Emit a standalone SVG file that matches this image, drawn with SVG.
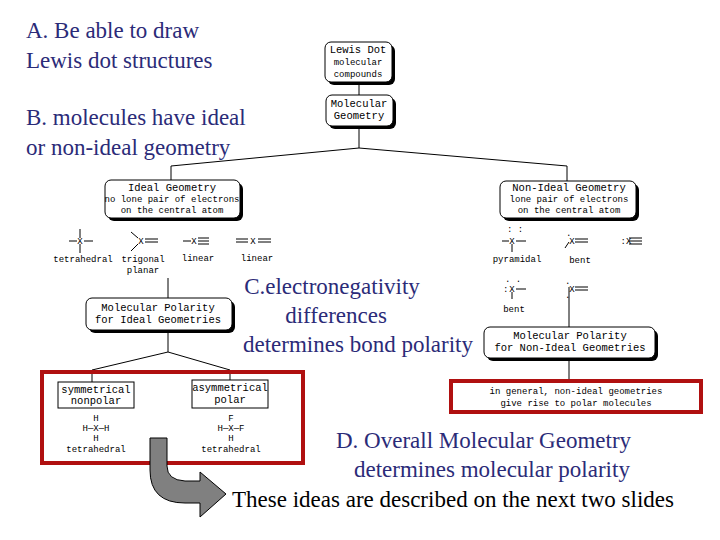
<svg xmlns="http://www.w3.org/2000/svg" width="720" height="540" viewBox="0 0 720 540">
<style>
.t{font-size:23px;fill:#2b2b78}
.m{font-size:10.5px;fill:#000}
.s{font-size:9px;fill:#000}
.b{fill:#fff;stroke:#000;stroke-width:1}
.sh{fill:#000}
.l{stroke:#000;stroke-width:1;fill:none}
.r{fill:none;stroke:#b01010;stroke-width:4}
</style>
<rect width="720" height="540" fill="#fff"/>
<g font-family="'Liberation Serif', 'Times New Roman', serif">
<text class="t" x="26" y="38">A. Be able to draw</text>
<text class="t" x="26" y="68">Lewis dot structures</text>
<text class="t" x="26" y="125">B. molecules have ideal</text>
<text class="t" x="26" y="155">or non-ideal geometry</text>
<text class="t" x="332" y="294" text-anchor="middle">C.electronegativity</text>
<text class="t" x="336" y="323" text-anchor="middle">differences</text>
<text class="t" x="358" y="352" text-anchor="middle">determines bond polarity</text>
<text class="t" x="336" y="448">D. Overall Molecular Geometry</text>
<text class="t" x="354" y="477">determines molecular polarity</text>
<text class="t" x="232" y="507" style="fill:#000">These ideas are described on the next two slides</text>
</g>
<g id="connectors" class="l">
<path d="M359 82V96M359 126V148L171 166V180M359 148L567 166V181"/>
<path d="M168 278V298M168 330V352L92 370V382M168 352L230 370V380"/>
<path d="M569 287V327M569 358V380"/>
</g>
<g font-family="'Liberation Mono', 'Courier New', monospace">
<g id="lewis"><rect class="sh" x="328" y="45" width="67" height="40" rx="6"/><rect class="b" x="325" y="42" width="67" height="40" rx="6"/>
<text class="m" x="358" y="53" text-anchor="middle">Lewis Dot</text><text class="s" x="358" y="65" text-anchor="middle">molecular</text><text class="s" x="358" y="77" text-anchor="middle">compounds</text></g>
<g id="molgeo"><rect class="sh" x="329" y="98" width="67" height="31" rx="6"/><rect class="b" x="326" y="95" width="67" height="31" rx="6"/>
<text class="m" x="359" y="107" text-anchor="middle">Molecular</text><text class="m" x="359" y="119" text-anchor="middle">Geometry</text></g>
<g id="ideal"><rect class="sh" x="108" y="183" width="135" height="38" rx="6"/><rect class="b" x="105" y="180" width="135" height="38" rx="6"/>
<text class="m" x="172" y="191" text-anchor="middle">Ideal Geometry</text><text class="s" x="172" y="202" text-anchor="middle">no lone pair of electrons</text><text class="s" x="172" y="213" text-anchor="middle">on the central atom</text></g>
<g id="nonideal"><rect class="sh" x="503" y="184" width="136" height="37" rx="6"/><rect class="b" x="500" y="181" width="136" height="37" rx="6"/>
<text class="m" x="569" y="191" text-anchor="middle">Non-Ideal Geometry</text><text class="s" x="569" y="202" text-anchor="middle">lone pair of electrons</text><text class="s" x="569" y="213" text-anchor="middle">on the central atom</text></g>
<g id="ideal-shapes" class="l">
<path d="M69 241H77M84 241H93M80 229V238M80 244V253"/>
<path d="M131 232L138 238M131 251L138 244M145 239H158M145 242H158"/>
<path d="M183 241H191M198 238H209M198 241H209M198 244H209"/>
<path d="M236 239H248M236 242H248M258 239H271M258 242H271"/>
</g>
<text class="s" x="80" y="244" text-anchor="middle">X</text>
<text class="s" x="141" y="244" text-anchor="middle">X</text>
<text class="s" x="194" y="244" text-anchor="middle">X</text>
<text class="s" x="253" y="244" text-anchor="middle">X</text>
<text class="s" x="83" y="262" text-anchor="middle">tetrahedral</text>
<text class="s" x="143" y="262" text-anchor="middle">trigonal</text>
<text class="s" x="143" y="273" text-anchor="middle">planar</text>
<text class="s" x="198" y="261" text-anchor="middle">linear</text>
<text class="s" x="257" y="261" text-anchor="middle">linear</text>
<g id="nonideal-shapes" class="l">
<path d="M502 241H509M516 241H526M512 244V252"/>
<path d="M569 242L565 248M575 239H588M575 242H588"/>
<path d="M629 238H642M629 241H642M629 244H642"/>
<path d="M516 289H526M512 292V299"/>
<path d="M575 287H588M575 290H588"/>
</g>
<g class="s">
<text x="512" y="244" text-anchor="middle">X</text><text x="507" y="232">: :</text>
<text x="572" y="244" text-anchor="middle">X</text><text x="566" y="236">.</text>
<text x="626" y="244" text-anchor="middle">:X</text>
<text x="512" y="292" text-anchor="middle">X</text><text x="505" y="282">. .</text><text x="503" y="292">:</text>
<text x="572" y="292" text-anchor="middle">X</text><text x="565" y="284">.</text><text x="565" y="298">.</text>
<text x="517" y="262" text-anchor="middle">pyramidal</text>
<text x="580" y="263" text-anchor="middle">bent</text>
<text x="514" y="312" text-anchor="middle">bent</text>
</g>
<g id="polideal"><rect class="sh" x="89" y="301" width="146" height="32" rx="6"/><rect class="b" x="86" y="298" width="146" height="32" rx="6"/>
<text class="m" x="158" y="311" text-anchor="middle">Molecular Polarity</text><text class="m" x="158" y="323" text-anchor="middle">for Ideal Geometries</text></g>
<g id="polnon"><rect class="sh" x="487" y="330" width="171" height="31" rx="6"/><rect class="b" x="484" y="327" width="171" height="31" rx="6"/>
<text class="m" x="570" y="339" text-anchor="middle">Molecular Polarity</text><text class="m" x="570" y="351" text-anchor="middle">for Non-Ideal Geometries</text></g>
<rect class="r" x="42" y="372" width="261" height="91"/>
<g id="sym"><rect class="b" x="58" y="382" width="76" height="26"/><text class="m" x="96" y="393" text-anchor="middle">symmetrical</text><text class="m" x="96" y="404" text-anchor="middle">nonpolar</text>
<text class="s" x="96" y="421" text-anchor="middle">H</text><text class="s" x="96" y="431" text-anchor="middle">H—X—H</text><text class="s" x="96" y="441" text-anchor="middle">H</text><text class="s" x="96" y="452" text-anchor="middle">tetrahedral</text></g>
<g id="asym"><rect class="b" x="192" y="380" width="76" height="28"/><text class="m" x="230" y="391" text-anchor="middle">asymmetrical</text><text class="m" x="230" y="403" text-anchor="middle">polar</text>
<text class="s" x="231" y="421" text-anchor="middle">F</text><text class="s" x="231" y="431" text-anchor="middle">H—X—F</text><text class="s" x="231" y="441" text-anchor="middle">H</text><text class="s" x="231" y="452" text-anchor="middle">tetrahedral</text></g>
<g id="general"><rect class="r" x="451" y="381" width="250" height="31"/>
<text class="s" x="576" y="394" text-anchor="middle">in general, non-ideal geometries</text><text class="s" x="576" y="406" text-anchor="middle">give rise to polar molecules</text></g>
</g>
<path d="M150 438H167V466Q167 480 185 481H200V472L226 494L200 517V503H185Q150 503 150 470Z" fill="#808080" stroke="#000" stroke-width="1"/>
</svg>
